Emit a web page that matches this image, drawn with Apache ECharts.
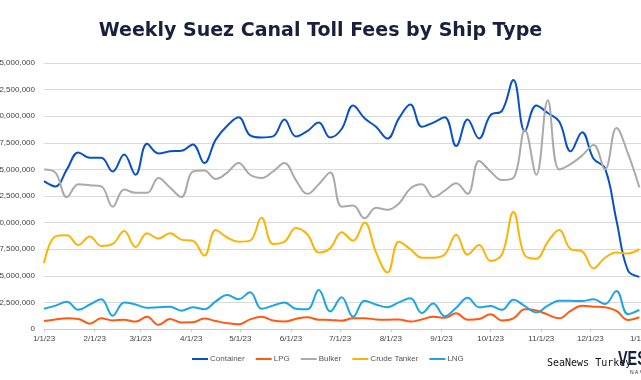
<!DOCTYPE html>
<html>
<head>
<meta charset="utf-8">
<script src="https://cdn.jsdelivr.net/npm/echarts@6/dist/echarts.min.js"></script>
<style>
html,body{margin:0;padding:0;background:#fff;}
#chart{width:641px;height:380px;}
</style>
</head>
<body>
<div id="chart"></div>
<script>
const weeks = ["2023-01-01","2023-01-08","2023-01-15","2023-01-22","2023-01-29","2023-02-05","2023-02-12","2023-02-19","2023-02-26","2023-03-05","2023-03-12","2023-03-19","2023-03-26","2023-04-02","2023-04-09","2023-04-16","2023-04-23","2023-04-30","2023-05-07","2023-05-14","2023-05-21","2023-05-28","2023-06-04","2023-06-11","2023-06-18","2023-06-25","2023-07-02","2023-07-09","2023-07-16","2023-07-23","2023-07-30","2023-08-06","2023-08-13","2023-08-20","2023-08-27","2023-09-03","2023-09-10","2023-09-17","2023-09-24","2023-10-01","2023-10-08","2023-10-15","2023-10-22","2023-10-29","2023-11-05","2023-11-12","2023-11-19","2023-11-26","2023-12-03","2023-12-10","2023-12-17","2023-12-24","2023-12-31"];

// values in millions of USD
const container = [13.9,13.4,15.0,16.6,16.1,16.1,14.8,16.4,14.5,17.4,16.5,16.7,16.75,17.35,15.6,17.8,19.1,19.9,18.2,18.0,18.1,19.7,18.1,18.6,19.4,18.0,18.8,21.0,19.8,19.0,17.9,19.8,21.1,19.0,19.4,19.9,17.2,19.7,17.9,20.1,20.5,23.4,18.6,21.0,20.3,19.5,16.7,18.5,16.0,15.1,10.2,5.5,4.9];
const lpg = [0.75,0.9,1.0,0.95,0.5,1.0,0.8,0.87,0.7,1.15,0.4,0.95,0.62,0.63,0.98,0.75,0.55,0.45,0.9,1.15,0.8,0.7,0.95,1.1,0.87,0.85,0.78,1.0,1.0,0.9,0.88,0.9,0.7,0.9,1.15,1.05,1.47,0.88,0.94,1.38,0.8,1.0,1.85,1.75,1.35,1.0,1.7,2.18,2.1,2.04,1.7,0.85,1.1];
const bulker = [15.0,14.7,12.4,13.6,13.5,13.4,11.5,13.1,12.8,12.8,14.2,13.3,12.4,14.8,14.9,14.1,14.7,15.6,14.5,14.2,14.8,15.6,14.0,12.7,13.6,14.7,11.5,11.6,10.4,11.4,11.2,11.8,13.2,13.6,12.4,13.0,13.7,12.7,15.8,14.8,14.0,14.2,18.7,14.5,21.5,15.0,15.5,16.3,17.3,15.0,18.9,16.5,13.3];
const crudeTanker = [6.2,8.7,8.8,7.9,8.7,7.8,8.0,9.2,7.7,9.0,8.5,9.0,8.4,8.3,6.9,9.3,8.6,8.2,8.3,10.45,8.0,8.2,9.5,8.9,7.2,7.6,9.1,8.3,10.0,7.2,5.3,8.2,7.5,6.7,6.7,7.0,8.85,7.0,7.9,6.4,7.0,11.0,6.9,6.6,8.2,9.3,7.5,7.3,5.7,6.7,7.2,7.1,7.5];
const lng = [1.9,2.2,2.55,1.8,2.3,2.8,1.25,2.5,2.3,2.0,2.05,2.1,1.72,2.04,1.85,2.6,3.2,2.8,3.45,1.9,2.2,2.5,1.9,1.85,3.67,1.65,2.98,1.15,2.65,2.3,2.05,2.5,2.88,1.5,2.4,1.2,2.0,2.94,2.05,2.15,1.8,2.75,2.15,1.57,2.2,2.66,2.65,2.63,2.79,2.35,3.57,1.4,1.8];

const seriesNames = ["Container","LPG","Bulker","Crude Tanker","LNG"];
const seriesValues = [container, lpg, bulker, crudeTanker, lng];
const seriesColors = ["#0a52c4","#ff5a10","#aaaaaa","#fbb404","#1ea4e6"];

const chart = echarts.init(document.getElementById('chart'), null, {renderer:'canvas'});

function fmtDate(v){
  const d = new Date(v);
  return (d.getMonth()+1) + '/' + d.getDate() + '/' + String(d.getFullYear()).slice(2);
}

const option = {
  backgroundColor: '#ffffff',
  animation: false,
  title: {
    text: 'Weekly Suez Canal Toll Fees by Ship Type',
    left: 'center',
    top: 17,
    textStyle: {fontFamily: 'DejaVu Sans', fontWeight: 'bold', fontSize: 19, color: '#17203d'}
  },
  legend: {
    data: seriesNames,
    left: 187,
    top: 350,
    icon: 'rect',
    itemWidth: 16,
    itemHeight: 2,
    itemGap: 11,
    textStyle: {fontFamily: 'Liberation Sans', fontSize: 8, color: '#555555', padding: [0,0,0,-3]}
  },
  grid: {left: 44, right: 0, top: 63, bottom: 51, containLabel: false, outerBoundsMode: 'none'},
  xAxis: {
    type: 'time',
    min: '2023-01-01',
    max: '2024-01-01',
    splitNumber: 12,
    minInterval: 28*86400000,
    maxInterval: 31*86400000,
    axisLine: {show: true, lineStyle: {color: '#cccccc', width: 1}},
    axisTick: {show: true, length: 3, lineStyle: {color: '#cccccc'}},
    splitLine: {show: false},
    axisLabel: {
      formatter: fmtDate,
      fontFamily: 'Liberation Sans', fontSize: 8, color: '#444444', margin: 6,
      showMinLabel: true, showMaxLabel: true, hideOverlap: false
    }
  },
  yAxis: {
    type: 'value',
    min: 0,
    max: 25,
    interval: 2.5,
    axisLine: {show: false},
    axisTick: {show: false},
    splitLine: {lineStyle: {color: '#d9d9d9', width: 1}},
    axisLabel: {
      formatter: v => Math.round(v*1000000).toLocaleString('en-US'),
      fontFamily: 'Liberation Sans', fontSize: 8, color: '#444444', margin: 9
    }
  },
  series: seriesNames.map((name, k) => ({
    name: name,
    type: 'line',
    data: weeks.map((w, i) => [w, seriesValues[k][i]]),
    smooth: 0.4,
    symbol: 'none',
    lineStyle: {width: 2, color: seriesColors[k]},
    itemStyle: {color: seriesColors[k]},
    clip: true
  })),
  graphic: [
    {type: 'text', left: 547, top: 358, style: {text: 'SeaNews Turkey', font: '10px "DejaVu Sans Mono"', fill: '#111111'}},
    {type: 'text', x: 618, y: 349, scaleX: 0.72, style: {text: 'VES', font: 'bold 20px "Liberation Sans"', fill: '#17203d'}},
    {type: 'text', left: 630, top: 370, style: {text: 'N A V', font: '5px "Liberation Sans"', fill: '#17203d'}}
  ]
};
chart.setOption(option);
</script>
</body>
</html>
